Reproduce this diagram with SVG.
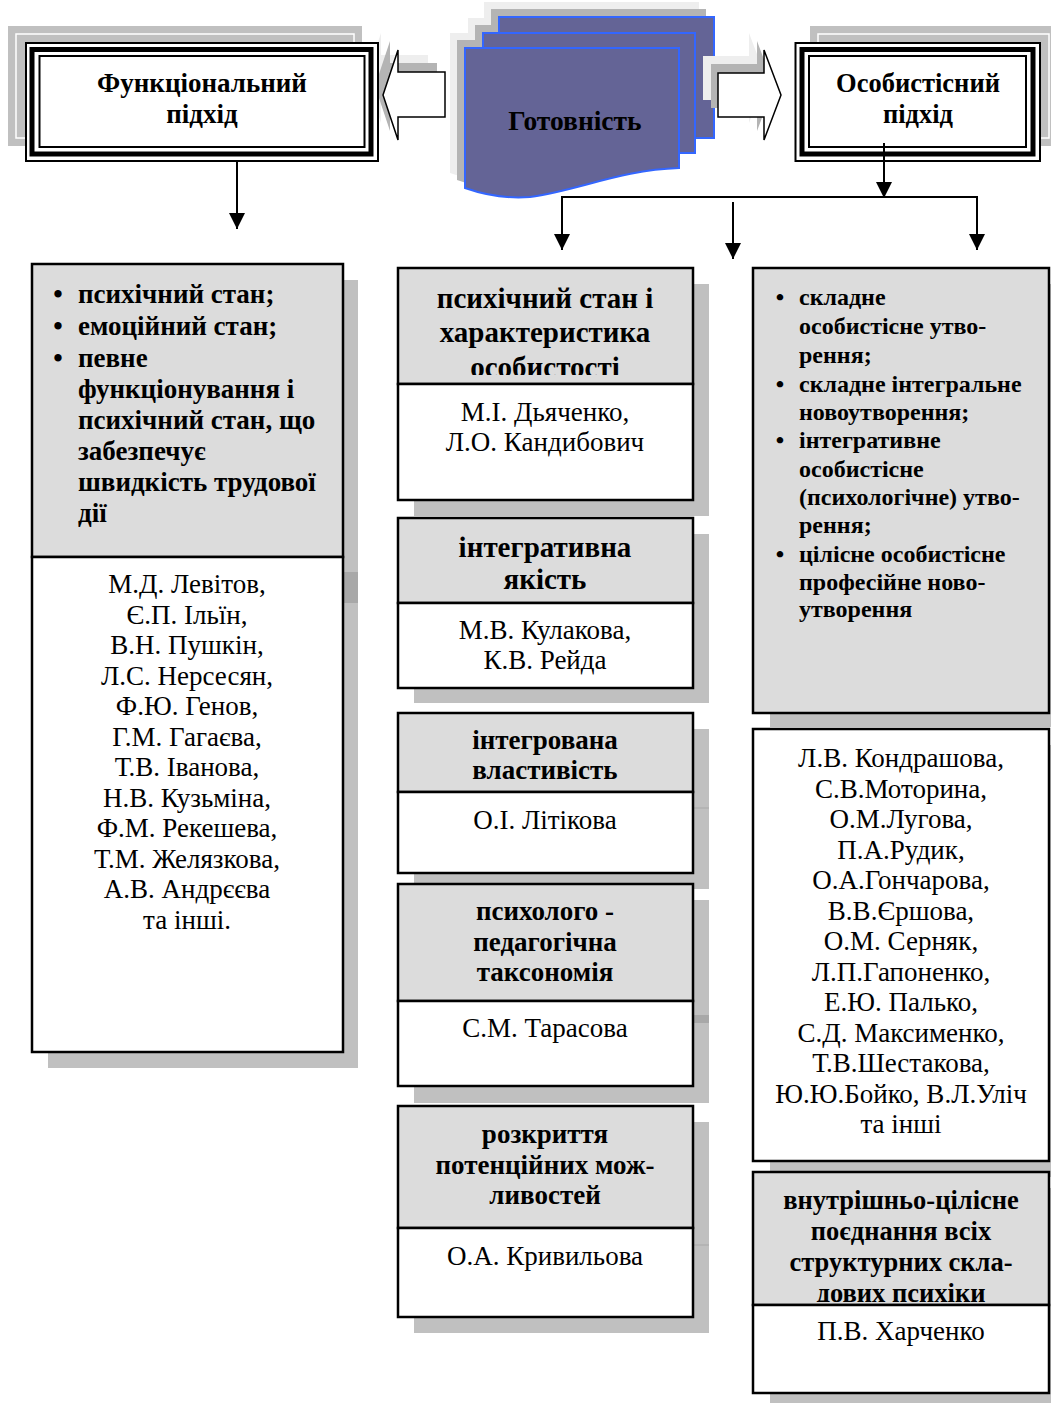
<svg xmlns="http://www.w3.org/2000/svg" width="1051" height="1403" viewBox="0 0 1051 1403">
<style>
.b{font-family:"Liberation Serif","Times New Roman",serif;font-weight:bold;fill:#000}
.r{font-family:"Liberation Serif","Times New Roman",serif;fill:#000}
.c{text-anchor:middle}
.box{fill:#fff;stroke:#000;stroke-width:2.5}
.hd{fill:#dcdcdc;stroke:#000;stroke-width:2.5}
.sh{fill:#c0c0c0}
.dk{fill:#a8a8a8}
.conn line{stroke:#000;stroke-width:2}
.doc{fill:#646496;stroke:#3366ff;stroke-width:2}
.arr{fill:#fff;stroke:#000;stroke-width:1.5}
</style>
<defs>
<marker id="ah" markerUnits="userSpaceOnUse" markerWidth="16" markerHeight="16" refX="16" refY="8" orient="auto">
<path d="M0,0 L16,8 L0,16 Z" fill="#000"/>
</marker>
<path id="front" d="M465,48 H679 V168 C620,170 580,190 530,197 C505,199 485,195 465,188 Z"/>
<path id="larr" d="M383,95 L398,50 L398,72 L445,72 L445,117 L398,117 L398,140 Z"/>
<path id="rarr" d="M781,95 L764,50 L764,73 L718,73 L718,117 L764,117 L764,140 Z"/>
</defs>

<g id="node-readiness">
<g fill="#eeeeee">
<rect x="484" y="2" width="215" height="121"/>
<rect x="468" y="18" width="212" height="120"/>
<use href="#front" transform="translate(-15,-15)"/>
</g>
<g fill="#b4b4b4">
<rect x="491" y="9" width="215" height="121"/>
<rect x="475" y="25" width="212" height="120"/>
<use href="#front" transform="translate(-8,-8)"/>
</g>
<rect class="doc" x="499" y="17" width="215" height="121"/>
<rect class="doc" x="483" y="33" width="212" height="120"/>
<use href="#front" class="doc"/>
<text class="b c" x="575" y="130" font-size="27.5">Готовність</text>
</g>

<g id="arrow-left">
<use href="#larr" fill="#eeeeee" transform="translate(-17,-17)"/>
<use href="#larr" fill="#b4b4b4" transform="translate(-8,-9)"/>
<use href="#larr" class="arr"/>
</g>
<g id="arrow-right">
<use href="#rarr" fill="#eeeeee" transform="translate(-15,-17)"/>
<use href="#rarr" fill="#b4b4b4" transform="translate(-7,-9)"/>
<use href="#rarr" class="arr"/>
</g>

<g id="node-functional">
<rect x="8" y="26" width="354" height="120" class="sh"/>
<rect x="16" y="34" width="338" height="104" fill="none" stroke="#fff" stroke-width="1.5"/>
<rect x="26" y="43" width="352" height="118" fill="#fff" stroke="#000" stroke-width="2"/>
<rect x="32" y="49.5" width="339" height="104.5" fill="none" stroke="#000" stroke-width="5"/>
<rect x="39.5" y="56" width="325" height="91" fill="none" stroke="#000" stroke-width="2"/>
<text class="b c" x="202" y="92" font-size="27">Функціональний</text>
<text class="b c" x="202" y="123" font-size="27">підхід</text>
</g>

<g id="node-personal">
<rect x="810" y="26" width="247" height="120" class="sh"/>
<rect x="818" y="34" width="231" height="104" fill="none" stroke="#fff" stroke-width="1.5"/>
<rect x="795.5" y="43" width="244.5" height="118" fill="#fff" stroke="#000" stroke-width="2"/>
<rect x="802" y="49.5" width="231" height="104.5" fill="none" stroke="#000" stroke-width="5"/>
<rect x="809" y="56" width="217" height="91" fill="none" stroke="#000" stroke-width="2"/>
<text class="b c" x="918" y="92" font-size="26.5">Особистісний</text>
<text class="b c" x="918" y="123" font-size="26.5">підхід</text>
</g>

<g id="connectors" class="conn">
<line x1="237" y1="162" x2="237" y2="229" marker-end="url(#ah)"/>
<line x1="884" y1="143" x2="884" y2="198" marker-end="url(#ah)"/>
<line x1="561" y1="197" x2="978" y2="197"/>
<line x1="562" y1="197" x2="562" y2="250" marker-end="url(#ah)"/>
<line x1="977" y1="197" x2="977" y2="250" marker-end="url(#ah)"/>
<line x1="733" y1="202" x2="733" y2="259" marker-end="url(#ah)"/>
</g>

<g id="node-functional-content">
<rect x="48" y="280" width="310" height="788" class="sh"/>
<rect x="343" y="572" width="15" height="31" class="dk"/>
<rect x="32" y="264" width="311" height="293" class="hd"/>
<rect x="32" y="557" width="311" height="495" class="box"/>
<g class="b" font-size="27">
<text x="58" y="303" class="c">•</text><text x="78" y="303">психічний стан;</text>
<text x="58" y="335" class="c">•</text><text x="78" y="335">емоційний стан;</text>
<text x="58" y="367" class="c">•</text><text x="78" y="367">певне</text>
<text x="78" y="398">функціонування і</text>
<text x="78" y="429">психічний стан, що</text>
<text x="78" y="460">забезпечує</text>
<text x="78" y="491">швидкість трудової</text>
<text x="78" y="522">дії</text>
</g>
<g class="r c" font-size="27">
<text x="187" y="593">М.Д. Левітов,</text>
<text x="187" y="623.5">Є.П. Ільїн,</text>
<text x="187" y="654">В.Н. Пушкін,</text>
<text x="187" y="684.5">Л.С. Нерсесян,</text>
<text x="187" y="715">Ф.Ю. Генов,</text>
<text x="187" y="745.5">Г.М. Гагаєва,</text>
<text x="187" y="776">Т.В. Іванова,</text>
<text x="187" y="806.5">Н.В. Кузьміна,</text>
<text x="187" y="837">Ф.М. Рекешева,</text>
<text x="187" y="867.5">Т.М. Желязкова,</text>
<text x="187" y="898">А.В. Андрєєва</text>
<text x="187" y="928.5">та інші.</text>
</g>
</g>

<g id="node-m1">
<rect x="414" y="284" width="295" height="232" class="sh"/>
<rect x="398" y="268" width="295" height="116" class="hd"/>
<clipPath id="c1"><rect x="398" y="268" width="295" height="107"/></clipPath>
<g class="b c" font-size="29" clip-path="url(#c1)">
<text x="545" y="308">психічний стан і</text>
<text x="545" y="342">характеристика</text>
<text x="545" y="377">особистості</text>
</g>
<rect x="398" y="384" width="295" height="116" class="box"/>
<g class="r c" font-size="27">
<text x="545" y="421">М.І. Дьяченко,</text>
<text x="545" y="451">Л.О. Кандибович</text>
</g>
</g>

<g id="node-m2">
<rect x="414" y="534" width="295" height="169" class="sh"/>
<rect x="398" y="518" width="295" height="85" class="hd"/>
<g class="b c" font-size="29">
<text x="545" y="557">інтегративна</text>
<text x="545" y="589">якість</text>
</g>
<rect x="398" y="603" width="295" height="85" class="box"/>
<g class="r c" font-size="27">
<text x="545" y="639">М.В. Кулакова,</text>
<text x="545" y="669">К.В. Рейда</text>
</g>
</g>

<g id="node-m3">
<rect x="414" y="729" width="295" height="160" class="sh"/>
<rect x="693" y="807.5" width="16" height="1" class="dk"/>
<rect x="398" y="713" width="295" height="79" class="hd"/>
<g class="b c" font-size="27">
<text x="545" y="749">інтегрована</text>
<text x="545" y="779">властивість</text>
</g>
<rect x="398" y="792" width="295" height="81" class="box"/>
<text class="r c" x="545" y="829" font-size="27">О.І. Літікова</text>
</g>

<g id="node-m4">
<rect x="414" y="900" width="295" height="203" class="sh"/>
<rect x="693" y="1015" width="16" height="8" class="dk"/>
<rect x="398" y="884" width="295" height="117" class="hd"/>
<g class="b c" font-size="27">
<text x="545" y="920">психолого -</text>
<text x="545" y="951">педагогічна</text>
<text x="545" y="981">таксономія</text>
</g>
<rect x="398" y="1001" width="295" height="85" class="box"/>
<text class="r c" x="545" y="1037" font-size="27">С.М. Тарасова</text>
</g>

<g id="node-m5">
<rect x="414" y="1122" width="295" height="211" class="sh"/>
<rect x="693" y="1244.5" width="16" height="1" class="dk"/>
<rect x="398" y="1106" width="295" height="122" class="hd"/>
<g class="b c" font-size="27">
<text x="545" y="1143">розкриття</text>
<text x="545" y="1174">потенційних мож-</text>
<text x="545" y="1204">ливостей</text>
</g>
<rect x="398" y="1228" width="295" height="89" class="box"/>
<text class="r c" x="545" y="1265" font-size="27">О.А. Кривильова</text>
</g>

<g id="node-r1">
<rect x="770" y="284" width="295" height="443" class="sh"/>
<rect x="753" y="268" width="296" height="445" class="hd"/>
<g class="b" font-size="24">
<text x="780" y="305" class="c">•</text><text x="799" y="305">складне</text>
<text x="799" y="334">особистісне утво-</text>
<text x="799" y="363">рення;</text>
<text x="780" y="392" class="c">•</text><text x="799" y="392">складне інтегральне</text>
<text x="799" y="420">новоутворення;</text>
<text x="780" y="448" class="c">•</text><text x="799" y="448">інтегративне</text>
<text x="799" y="477">особистісне</text>
<text x="799" y="505">(психологічне) утво-</text>
<text x="799" y="533">рення;</text>
<text x="780" y="562" class="c">•</text><text x="799" y="562">цілісне особистісне</text>
<text x="799" y="590">професійне ново-</text>
<text x="799" y="617">утворення</text>
</g>
</g>

<g id="node-r2">
<rect x="770" y="745" width="295" height="432" class="sh"/>
<rect x="753" y="729" width="296" height="432" class="box"/>
<g class="r c" font-size="27">
<text x="901" y="767">Л.В. Кондрашова,</text>
<text x="901" y="797.5">С.В.Моторина,</text>
<text x="901" y="828">О.М.Лугова,</text>
<text x="901" y="858.5">П.А.Рудик,</text>
<text x="901" y="889">О.А.Гончарова,</text>
<text x="901" y="919.5">В.В.Єршова,</text>
<text x="901" y="950">О.М. Серняк,</text>
<text x="901" y="980.5">Л.П.Гапоненко,</text>
<text x="901" y="1011">Е.Ю. Палько,</text>
<text x="901" y="1041.5">С.Д. Максименко,</text>
<text x="901" y="1072">Т.В.Шестакова,</text>
<text x="901" y="1102.5">Ю.Ю.Бойко, В.Л.Уліч</text>
<text x="901" y="1133">та інші</text>
</g>
</g>

<g id="node-r3">
<rect x="770" y="1188" width="295" height="222" class="sh"/>
<rect x="753" y="1172" width="296" height="133" class="hd"/>
<clipPath id="c2"><rect x="753" y="1172" width="296" height="130"/></clipPath>
<g class="b c" font-size="26.5" clip-path="url(#c2)">
<text x="901" y="1209">внутрішньо-цілісне</text>
<text x="901" y="1240">поєднання всіх</text>
<text x="901" y="1271">структурних скла-</text>
<text x="901" y="1302">дових психіки</text>
</g>
<rect x="753" y="1305" width="296" height="88" class="box"/>
<text class="r c" x="901" y="1340" font-size="27">П.В. Харченко</text>
</g>
</svg>
